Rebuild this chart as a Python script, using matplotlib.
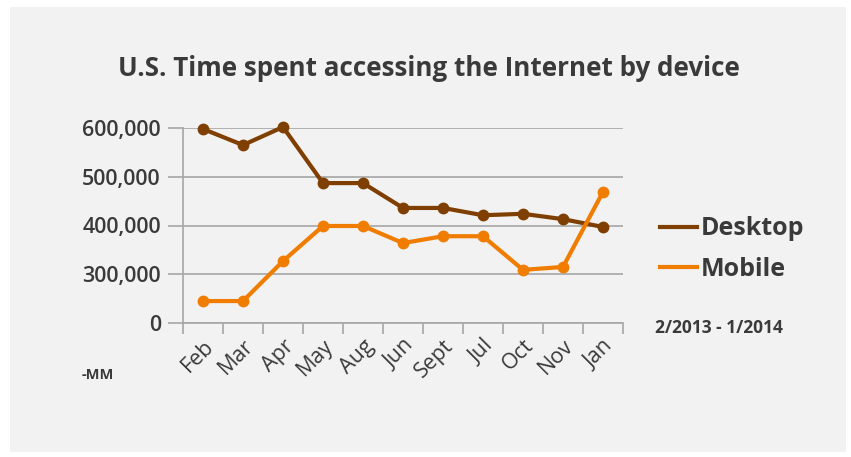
import matplotlib.pyplot as plt
from matplotlib.patches import Rectangle

plt.rcParams['font.family'] = ['Open Sans', 'DejaVu Sans']

# data (millions of minutes)
months = ['Feb', 'Mar', 'Apr', 'May', 'Aug', 'Jun', 'Sept', 'Jul', 'Oct', 'Nov', 'Jan']
desktop = [598000, 565000, 602000, 487000, 487000, 436000, 436000, 421000, 424000, 413000, 397000]
mobile = [245000, 245000, 327000, 399000, 399000, 364000, 378000, 378000, 309000, 315000, 469000]

# the original axis labels its bottom gridline "0"
ytick_vals = [200000, 300000, 400000, 500000, 600000]
ytick_labels = ['0', '300,000', '400,000', '500,000', '600,000']

desktop_color = '#7f3f00'
mobile_color = '#f07d00'
text_color = '#3a3a3a'
grid_color = '#a6a6a6'

fig = plt.figure(figsize=(8.51, 4.57), dpi=100)
fig.patch.set_facecolor('white')
fig.patches.append(Rectangle((10 / 851, 1 - 452 / 457), 836 / 851, 445 / 457,
                             transform=fig.transFigure, facecolor='#f2f2f2',
                             edgecolor='none', zorder=-10))

ax = fig.add_axes([183 / 851, 1 - 323 / 457, 440 / 851, 195 / 457])
ax.set_facecolor('none')

x = [i + 0.5 for i in range(len(months))]
ax.plot(x, desktop, color=desktop_color, lw=3, marker='o', ms=7.5,
        label='Desktop', clip_on=False, zorder=3)
ax.plot(x, mobile, color=mobile_color, lw=3, marker='o', ms=7.5,
        label='Mobile', clip_on=False, zorder=3)

ax.set_xlim(0, len(months))
ax.set_ylim(200000, 600000)
ax.set_yticks(ytick_vals)
ax.set_yticklabels(ytick_labels, fontsize=15.5, fontweight='semibold', color=text_color)
ax.set_xticks(range(len(months) + 1))
ax.set_xticklabels([])
ax.set_xticks(x, minor=True)
ax.set_xticklabels(months, minor=True, rotation=45, ha='right', va='top',
                   rotation_mode='anchor', fontsize=15.5, color=text_color)
ax.tick_params(axis='x', which='minor', length=0, pad=9)
ax.tick_params(axis='x', which='major', length=8, color=grid_color, width=1.2)
ax.tick_params(axis='y', length=11, color=grid_color, width=1.2, pad=5)

ax.grid(axis='y', color=grid_color, lw=1.2)
ax.set_axisbelow(True)
for side in ['top', 'right']:
    ax.spines[side].set_visible(False)
for side in ['left', 'bottom']:
    ax.spines[side].set_color(grid_color)
    ax.spines[side].set_linewidth(1.2)

fig.text(429 / 851, 1 - 68 / 457, 'U.S. Time spent accessing the Internet by device',
         ha='center', va='center', fontsize=18.7, fontweight='bold', color=text_color)

leg = ax.legend(loc='center left', bbox_to_anchor=(637 / 851, 1 - 249 / 457),
                bbox_transform=fig.transFigure, frameon=False, fontsize=18,
                handlelength=1.5, handletextpad=0.15, labelspacing=0.62)
for t in leg.get_texts():
    t.set_fontweight('bold')
    t.set_color(text_color)
for h in leg.get_lines():
    h.set_marker('')

fig.text(655 / 851, 1 - 328 / 457, '2/2013 - 1/2014', ha='left', va='center',
         fontsize=12.5, fontweight='bold', color=text_color)
fig.text(82 / 851, 1 - 375 / 457, '-MM', ha='left', va='center',
         fontsize=10.5, fontweight='bold', color=text_color)

fig.savefig('out.png', dpi=100, facecolor=fig.get_facecolor())
